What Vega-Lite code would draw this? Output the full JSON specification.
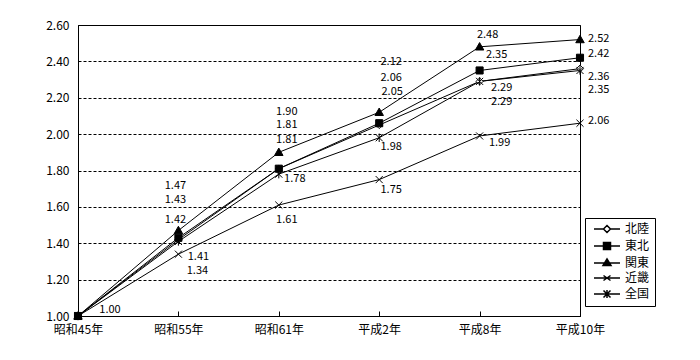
{
  "$schema": "https://vega.github.io/schema/vega-lite/v6.json",
  "autosize": {"type": "none"},
  "padding": {"left": 78, "top": 25, "right": 120, "bottom": 44},
  "width": 502,
  "height": 291,
  "background": "white",
  "config": {
    "view": {"stroke": "black", "strokeWidth": 1},
    "axis": {"labelFont": "Noto Sans CJK JP", "labelFontSize": 12, "labelColor": "black", "domainColor": "black", "tickColor": "black", "title": null},
    "legend": {"labelFont": "Noto Sans CJK JP", "labelFontSize": 12, "labelColor": "black"}
  },
  "data": {"values": [
    {"series": "北陸", "year": "昭和45年", "value": 1.00},
    {"series": "北陸", "year": "昭和55年", "value": 1.42},
    {"series": "北陸", "year": "昭和61年", "value": 1.81},
    {"series": "北陸", "year": "平成2年", "value": 2.05},
    {"series": "北陸", "year": "平成8年", "value": 2.29},
    {"series": "北陸", "year": "平成10年", "value": 2.36},
    {"series": "東北", "year": "昭和45年", "value": 1.00},
    {"series": "東北", "year": "昭和55年", "value": 1.43},
    {"series": "東北", "year": "昭和61年", "value": 1.81},
    {"series": "東北", "year": "平成2年", "value": 2.06},
    {"series": "東北", "year": "平成8年", "value": 2.35},
    {"series": "東北", "year": "平成10年", "value": 2.42},
    {"series": "関東", "year": "昭和45年", "value": 1.00},
    {"series": "関東", "year": "昭和55年", "value": 1.47},
    {"series": "関東", "year": "昭和61年", "value": 1.90},
    {"series": "関東", "year": "平成2年", "value": 2.12},
    {"series": "関東", "year": "平成8年", "value": 2.48},
    {"series": "関東", "year": "平成10年", "value": 2.52},
    {"series": "近畿", "year": "昭和45年", "value": 1.00},
    {"series": "近畿", "year": "昭和55年", "value": 1.34},
    {"series": "近畿", "year": "昭和61年", "value": 1.61},
    {"series": "近畿", "year": "平成2年", "value": 1.75},
    {"series": "近畿", "year": "平成8年", "value": 1.99},
    {"series": "近畿", "year": "平成10年", "value": 2.06},
    {"series": "全国", "year": "昭和45年", "value": 1.00},
    {"series": "全国", "year": "昭和55年", "value": 1.41},
    {"series": "全国", "year": "昭和61年", "value": 1.78},
    {"series": "全国", "year": "平成2年", "value": 1.98},
    {"series": "全国", "year": "平成8年", "value": 2.29},
    {"series": "全国", "year": "平成10年", "value": 2.35}
  ]},
  "encoding": {
    "x": {
      "field": "year", "type": "ordinal",
      "sort": ["昭和45年", "昭和55年", "昭和61年", "平成2年", "平成8年", "平成10年"],
      "scale": {"type": "point", "padding": 0},
      "axis": {"labelAngle": 0, "tickSize": -5, "labelPadding": 13, "grid": false}
    },
    "y": {
      "field": "value", "type": "quantitative",
      "scale": {"domain": [1, 2.6], "nice": false, "zero": false},
      "axis": {"values": [1.0, 1.2, 1.4, 1.6, 1.8, 2.0, 2.2, 2.4, 2.6], "format": ".2f", "ticks": false, "labelPadding": 9, "grid": true, "gridColor": "black", "gridDash": [3, 2], "gridWidth": 1, "gridOpacity": 1}
    }
  },
  "resolve": {"scale": {"shape": "independent", "fill": "independent"}},
  "layer": [
    {
      "mark": {"type": "line", "color": "black", "strokeWidth": 1},
      "encoding": {"detail": {"field": "series"}}
    },
    {
      "mark": {"type": "point", "filled": true, "size": 50, "stroke": "black", "strokeWidth": 1, "opacity": 1},
      "encoding": {
        "shape": {
          "field": "series", "type": "nominal",
          "scale": {
            "domain": ["北陸", "東北", "関東", "近畿", "全国"],
            "range": ["M0,-1L1,0L0,1L-1,0Z", "M-1,-1H1V1H-1Z", "M0,-1.2L1.2,0.9L-1.2,0.9Z", "M-1,-1L1,1M-1,1L1,-1", "M-1,-1L1,1M-1,1L1,-1M0,-1.2V1.2"]
          },
          "legend": null
        },
        "fill": {
          "field": "series", "type": "nominal",
          "scale": {"domain": ["北陸", "東北", "関東", "近畿", "全国"], "range": ["white", "black", "black", "black", "black"]},
          "legend": null
        }
      }
    },
    {
      "transform": [{"filter": "false"}],
      "mark": {"type": "point", "filled": false, "color": "black", "size": 100, "strokeWidth": 1, "opacity": 1},
      "encoding": {
        "shape": {
          "field": "series", "type": "nominal",
          "scale": {
            "domain": ["北陸", "東北", "関東", "近畿", "全国"],
            "range": [
              "M-2.6,0H-0.7M0.7,0H2.6M0,-0.7L0.7,0L0,0.7L-0.7,0Z",
              "M-2.6,0H2.6M-0.7,-0.7H0.7V0.7H-0.7Z",
              "M-2.6,0H2.6M0,-0.8L0.8,0.5L-0.8,0.5Z",
              "M-2.6,0H2.6M-0.7,-0.5L0.7,0.5M-0.7,0.5L0.7,-0.5",
              "M-2.6,0H2.6M-0.7,-0.7L0.7,0.7M-0.7,0.7L0.7,-0.7M0,-0.8V0.8"
            ]
          },
          "legend": {
            "title": null,
            "orient": "none",
            "legendX": 507,
            "legendY": 193,
            "strokeColor": "black",
            "fillColor": "white",
            "padding": 5,
            "symbolSize": 100,
            "symbolOffset": 11,
            "labelOffset": 12,
            "rowPadding": 3,
            "encode": {"symbols": {"update": {"stroke": {"value": "black"}, "strokeWidth": {"value": 1}, "opacity": {"value": 1}}}}
          }
        },
        "fill": {
          "field": "series", "type": "nominal",
          "scale": {"domain": ["北陸", "東北", "関東", "近畿", "全国"], "range": ["white", "black", "black", "black", "black"]},
          "legend": {
            "title": null,
            "orient": "none",
            "legendX": 507,
            "legendY": 193,
            "strokeColor": "black",
            "fillColor": "white",
            "padding": 5,
            "symbolSize": 100,
            "symbolOffset": 11,
            "labelOffset": 12,
            "rowPadding": 3,
            "encode": {"symbols": {"update": {"stroke": {"value": "black"}, "strokeWidth": {"value": 1}, "opacity": {"value": 1}}}}
          }
        }
      }
    },
    {
      "transform": [{"filter": "datum.year != '昭和45年' || datum.series == '東北'"}],
      "mark": {
        "type": "text",
        "font": "Noto Sans CJK JP",
        "fontSize": 11,
        "color": "black",
        "baseline": "middle",
        "align": {"expr": "datum.year == '平成10年' ? 'left' : 'center'"},
        "dx": {"expr": "({'関東':[0,-3,8,12,8,8],'東北':[32,-3,8,12,17,8],'北陸':[0,-3,8,13,22,8],'全国':[0,20,16,12,22,8],'近畿':[0,19,8,12,20,8]})[datum.series][indexof(['昭和45年','昭和55年','昭和61年','平成2年','平成8年','平成10年'], datum.year)]"},
        "dy": {"expr": "({'関東':[0,-45,-40,-50,-12,-1],'東北':[-6,-38,-44,-45,-15,-4],'北陸':[0,-20,-29,-33,7,8],'全国':[0,16,5,9,21,20],'近畿':[0,17,15,10,7,-2]})[datum.series][indexof(['昭和45年','昭和55年','昭和61年','平成2年','平成8年','平成10年'], datum.year)]"}
      },
      "encoding": {
        "text": {"field": "value", "type": "quantitative", "format": ".2f"}
      }
    }
  ]
}
